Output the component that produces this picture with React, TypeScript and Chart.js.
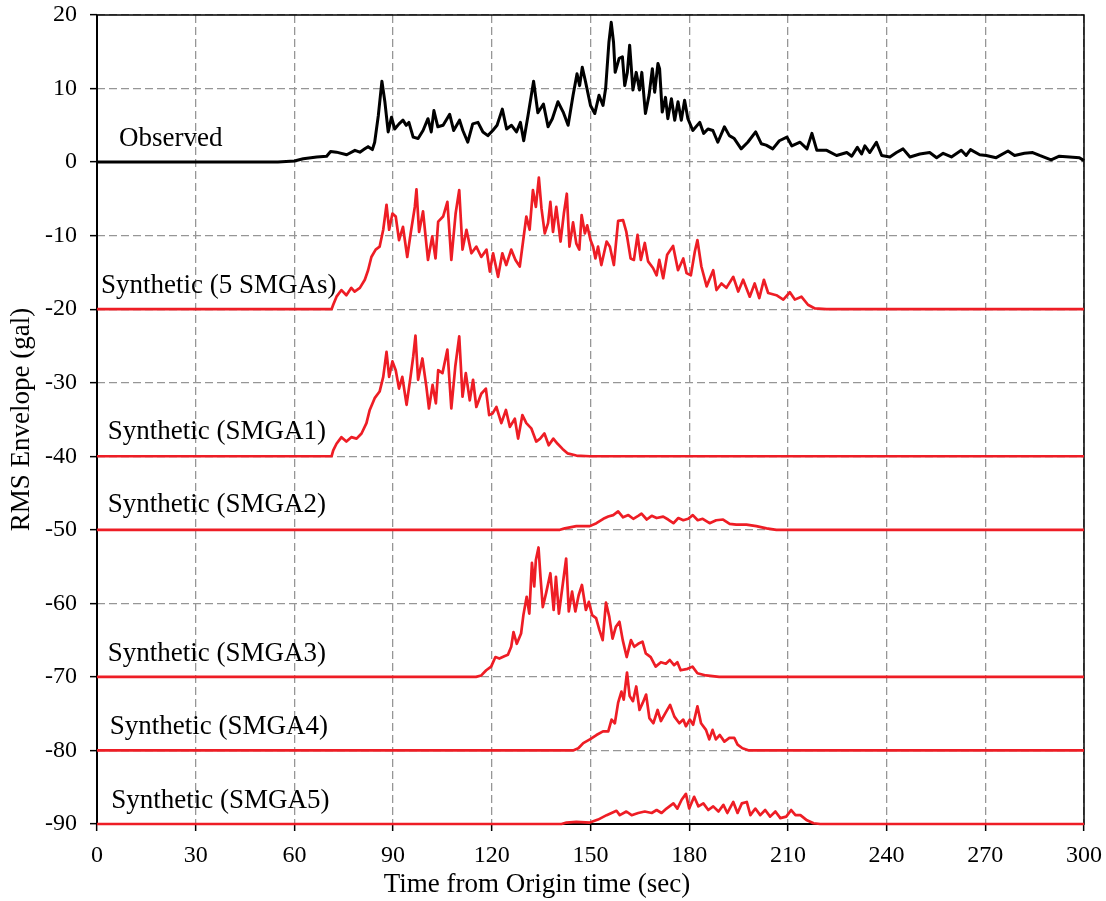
import React, { useEffect, useRef } from "react";
import { Chart, registerables } from "chart.js";

Chart.register(...registerables);

// ---------- data (time sec, RMS envelope gal, offset traces) ----------
const xTickValues = [0, 30, 60, 90, 120, 150, 180, 210, 240, 270, 300];
const yTickValues = [20, 10, 0, -10, -20, -30, -40, -50, -60, -70, -80, -90];

const observed: [number, number][] = [
  [0, 0], [55, 0], [60, 0.15], [62.7, 0.45], [66.8, 0.7], [69.8, 0.8], [71, 1.45], [72.8, 1.35], [75.9, 1.0],
  [78.4, 1.6], [79.9, 1.35], [81.4, 1.8], [82.4, 2.1], [83.7, 1.7], [84.4, 2.7], [85.5, 6.3], [86.6, 11.0],
  [87.5, 8.2], [88.5, 4.1], [89.5, 6.1], [90.5, 4.5], [91.8, 5.2], [93, 5.7], [94, 5.0], [94.8, 5.4], [96.1, 3.4],
  [97.6, 3.2], [99.1, 4.3], [100.6, 5.9], [101.6, 4.1], [102.4, 7.0], [103.6, 4.8], [105.2, 5.0], [107.2, 6.5],
  [108.4, 4.3], [110.2, 5.7], [111.2, 4.3], [112.7, 2.7], [114.2, 5.2], [115.8, 5.4], [117.3, 4.1], [118.8, 3.6],
  [120.3, 4.3], [121.6, 5.0], [123.2, 7.2], [124.5, 4.5], [126, 5.0], [127.5, 4.1], [128.7, 5.4], [129.7, 2.9],
  [131, 6.3], [132.7, 11.0], [134, 6.7], [135.7, 7.9], [137.1, 4.8], [138.4, 5.9], [140.1, 8.2], [141.7, 6.8],
  [143.2, 5.0], [144.7, 9.1], [145.9, 12.0], [146.7, 10.4], [147.5, 12.9], [148.5, 10.9], [150, 7.7], [151.3, 6.6],
  [152.6, 9.1], [153.8, 7.7], [154.6, 10.0], [155.6, 16.3], [156.3, 19.0], [157, 16.3], [157.5, 12.2], [158.7, 14.1],
  [159.7, 14.3], [160.4, 10.4], [161.2, 12.2], [161.9, 15.9], [162.9, 9.8], [163.9, 12.2], [164.9, 9.8], [165.6, 12.2],
  [166.7, 6.6], [167.8, 9.1], [168.8, 12.7], [169.5, 9.5], [170.5, 13.4], [171, 12.7], [171.8, 6.8], [172.8, 8.8],
  [173.5, 5.9], [174.6, 8.6], [175.6, 5.7], [176.6, 8.2], [177.6, 5.7], [178.6, 8.4], [179.6, 5.9], [181.1, 4.3],
  [183.2, 5.4], [184.4, 3.9], [185.7, 4.5], [187.2, 4.3], [188.7, 2.7], [190.7, 4.8], [192.2, 3.6], [193.7, 3.2],
  [195.8, 1.8], [197.8, 2.7], [200.2, 4.1], [201.9, 2.5], [203.4, 2.3], [205.4, 1.8], [207.4, 2.9], [209.7, 3.4],
  [211.2, 2.2], [213.7, 2.7], [215.8, 1.8], [217.3, 3.9], [218.8, 1.6], [221.8, 1.6], [224.8, 0.9], [227.9, 1.3],
  [229.4, 0.8], [231.1, 2.0], [232.4, 1.1], [233.4, 2.2], [234.9, 1.3], [236.9, 2.7], [238.5, 0.9], [241, 0.7],
  [243, 1.3], [245, 1.8], [247.1, 0.7], [250.1, 1.1], [253.1, 1.3], [255.2, 0.6], [257.2, 1.2], [259.7, 0.7],
  [262.7, 1.6], [264.2, 0.9], [265.5, 1.7], [268.3, 1.0], [270.3, 0.9], [273.3, 0.6], [276.9, 1.5], [278.9, 0.9],
  [281.9, 1.2], [284.4, 1.3], [286.5, 0.9], [290, 0.3], [292.5, 0.8], [295.6, 0.7], [298.6, 0.6], [300, 0.2],
];

const synthAll: [number, number][] = [
  [0, -20], [71.3, -20], [71.8, -19.4], [72.8, -18.3], [74.3, -17.4], [75.8, -18.1], [77.3, -17.1], [78.3, -17.6],
  [79.9, -17.1], [81.4, -16.0], [82.4, -14.7], [83.4, -12.9], [84.7, -11.9], [85.9, -11.5], [87, -9.2], [88, -5.8],
  [88.8, -9.2], [89.8, -7.0], [90.8, -7.4], [91.8, -10.6], [93, -8.8], [94.3, -12.9], [95.4, -9.5], [96.6, -6.1],
  [97.1, -3.7], [97.9, -9.5], [99.1, -6.7], [100.6, -13.3], [101.9, -10.1], [102.9, -13.1], [103.7, -8.1],
  [105.2, -7.4], [106.5, -5.4], [107.7, -13.3], [109, -7.0], [110.1, -3.8], [111.1, -11.9], [112.3, -9.2],
  [113.8, -12.4], [115.3, -11.5], [116.8, -12.9], [118.4, -11.9], [119.4, -14.9], [120.4, -12.4], [121.9, -15.6],
  [123.2, -12.4], [124.4, -14.0], [125.9, -11.9], [127.2, -13.3], [128.5, -14.2], [129.5, -10.8], [130.5, -7.4],
  [131.5, -9.2], [132.5, -3.8], [133.4, -6.1], [134.3, -2.1], [135.1, -6.3], [136.1, -9.7], [137.1, -8.3],
  [137.8, -5.4], [138.6, -9.5], [139.6, -6.1], [140.9, -10.8], [141.9, -7.0], [142.8, -4.3], [143.6, -11.5],
  [144.7, -8.2], [145.7, -11.1], [146.6, -11.9], [147.3, -7.2], [148.3, -9.7], [149, -8.6], [150, -10.6],
  [150.8, -11.5], [151.5, -13.1], [152.3, -11.5], [153.3, -14.0], [154.9, -10.8], [155.9, -11.5], [157.1, -14.0],
  [158.4, -8.0], [159.9, -7.9], [160.9, -9.5], [162.2, -13.1], [163.2, -13.3], [164.3, -9.9], [165.3, -13.3],
  [166.5, -11.0], [167.5, -13.5], [169, -14.4], [170.1, -15.4], [170.9, -13.3], [172.1, -15.8], [173.3, -12.6],
  [175.1, -11.4], [176.6, -14.7], [178.2, -13.1], [179.2, -15.1], [180.5, -15.4], [181.7, -12.2], [182.5, -10.6],
  [183.7, -14.2], [185.3, -16.9], [187.3, -14.7], [188.3, -17.4], [189.8, -16.5], [191.3, -17.1], [193.4, -15.6],
  [194.9, -17.6], [196.4, -16.0], [198.4, -18.3], [199.9, -16.5], [201.3, -18.5], [202.7, -16.0], [204, -17.8],
  [206.5, -18.1], [208.6, -18.7], [210.6, -17.7], [212.1, -18.7], [214.1, -18.3], [216.1, -19.4], [218.2, -19.9],
  [221.7, -20], [300, -20],
];

const smga1: [number, number][] = [
  [0, -40], [71.3, -40], [71.8, -39.2], [72.8, -38.3], [74.3, -37.4], [75.8, -38.0], [77.3, -37.4], [78.9, -37.6],
  [80.4, -36.9], [81.9, -35.5], [82.9, -33.7], [84.4, -32.1], [85.9, -31.2], [87, -29.2], [88, -25.8], [88.8, -29.2],
  [89.8, -27.1], [90.8, -28.3], [91.8, -30.8], [92.8, -29.2], [94.1, -33.0], [95.3, -29.2], [96.1, -26.5],
  [96.8, -23.6], [97.6, -29.6], [98.9, -26.7], [100.1, -30.5], [100.9, -33.5], [102, -30.3], [103, -32.8],
  [103.7, -28.3], [105, -28.7], [106.5, -25.5], [107.7, -33.5], [108.9, -27.8], [110.1, -23.7], [111.1, -31.9],
  [112.1, -28.7], [113.3, -32.4], [114.3, -29.6], [115.3, -33.3], [116.8, -31.5], [118.2, -30.8], [119.2, -34.4],
  [120.2, -34.2], [121.4, -33.3], [122.9, -35.5], [124.3, -33.7], [125.5, -36.0], [127, -34.9], [128, -37.6],
  [129.3, -34.4], [130.5, -35.5], [132, -36.2], [133.5, -38.0], [134.7, -37.6], [136, -36.9], [137.3, -38.5],
  [138.7, -37.6], [140, -38.3], [141.5, -39.0], [143, -39.6], [145.7, -39.9], [149.8, -40], [300, -40],
];

const smga2: [number, number][] = [
  [0, -50], [140.7, -50], [142.2, -49.8], [145.7, -49.5], [149.8, -49.5], [151.8, -49.1], [153.9, -48.5],
  [155.4, -48.2], [156.9, -48.0], [158.4, -47.5], [159.9, -48.3], [161.5, -48.0], [163, -48.5], [164.5, -48.1],
  [165.5, -47.8], [167.1, -48.6], [168.6, -48.1], [170.1, -48.4], [172.1, -48.2], [173.6, -48.6], [175.2, -49.1],
  [176.7, -48.4], [178.2, -48.7], [179.7, -48.5], [181.1, -48.0], [182.6, -48.7], [184.1, -48.5], [186.2, -49.1],
  [188.2, -48.7], [190.3, -48.6], [192.3, -49.2], [194.3, -49.3], [197.4, -49.3], [200.4, -49.5], [203.5, -49.8],
  [206.5, -50], [300, -50],
];

const smga3: [number, number][] = [
  [0, -70], [115.2, -70], [116.8, -69.8], [118.3, -69.1], [119.8, -68.6], [121.1, -67.3], [122.3, -67.5],
  [123.8, -67.2], [124.9, -67.0], [125.9, -65.9], [126.6, -63.9], [127.6, -65.5], [128.9, -64.1], [129.6, -61.6],
  [130.6, -59.1], [131.4, -61.4], [132.2, -54.5], [132.9, -57.7], [133.4, -54.1], [134.2, -52.4], [134.8, -56.4],
  [135.5, -60.5], [136.5, -58.6], [137.8, -55.9], [138.8, -60.9], [139.5, -56.4], [140.4, -61.4], [141.6, -57.3],
  [142.6, -53.9], [143.4, -61.1], [144.4, -58.4], [145.4, -61.1], [146.4, -58.9], [147.4, -57.5], [148.6, -60.9],
  [149.5, -59.8], [150.5, -61.6], [151.7, -62.0], [152.7, -63.6], [153.7, -65.0], [154.7, -59.9], [155.7, -61.8],
  [156.7, -64.8], [157.7, -63.2], [158.8, -62.5], [159.8, -65.0], [161, -67.3], [162.3, -65.0], [163.3, -65.9],
  [164.5, -65.5], [165.8, -65.2], [166.8, -66.8], [168.3, -67.3], [169.8, -68.6], [171.4, -68.0], [172.9, -68.2],
  [174.1, -67.7], [175.4, -68.4], [176.4, -68.0], [177.4, -69.1], [179.5, -68.9], [181, -68.6], [182.5, -69.5],
  [185.1, -69.8], [189.1, -70], [300, -70],
];

const smga4: [number, number][] = [
  [0, -80], [144.7, -80], [146.3, -79.7], [147.8, -79.0], [149.8, -78.5], [151.8, -77.9], [153.8, -77.4],
  [155.4, -77.4], [156.4, -75.8], [157.4, -76.3], [158.4, -73.5], [159.4, -72.0], [160.1, -73.1], [161.1, -69.4],
  [161.9, -72.6], [162.9, -73.3], [163.9, -71.3], [164.9, -74.5], [165.9, -73.5], [166.9, -72.4], [167.9, -75.6],
  [169.1, -76.3], [170.4, -74.5], [171.4, -76.0], [172.8, -74.9], [174.2, -73.8], [175.5, -75.4], [177, -76.3],
  [178.2, -75.8], [179, -76.7], [180.2, -75.8], [181.2, -76.5], [182.5, -74.0], [183.6, -76.3], [185.1, -77.2],
  [186.1, -78.5], [187.1, -77.2], [188.1, -78.5], [189.3, -77.9], [190.7, -78.8], [192.2, -78.3], [193.7, -78.3],
  [194.7, -79.2], [196.2, -79.7], [198.2, -80], [300, -80],
];

const smga5: [number, number][] = [
  [0, -90], [141.2, -90], [142.7, -89.8], [145.7, -89.7], [149.8, -89.8], [152.3, -89.4], [154.9, -88.8],
  [156.4, -88.5], [157.9, -88.2], [158.9, -88.8], [160.9, -88.3], [162.5, -88.8], [164.5, -88.5], [166.5, -88.3],
  [168.6, -88.5], [170.1, -88.1], [171.6, -88.5], [173.1, -87.9], [175.2, -87.2], [176.4, -87.9], [177.7, -86.7],
  [179, -85.9], [180, -87.9], [181.5, -86.3], [182.8, -87.6], [184.3, -87.2], [185.8, -88.1], [187.3, -87.6],
  [188.9, -88.3], [190.4, -87.4], [191.6, -88.5], [193.4, -87.0], [194.7, -88.5], [196, -87.2], [197.5, -87.0],
  [198.6, -88.8], [200.1, -87.9], [201.6, -88.8], [203.1, -88.1], [204.6, -89.0], [206.2, -88.3], [207.7, -89.2],
  [209.5, -89.0], [211, -88.1], [212.3, -88.8], [213.8, -88.8], [215.8, -89.5], [217.8, -89.9], [219.8, -90],
  [300, -90],
];

// labels: [text, time at left edge, value at vertical centre]
const seriesLabels: [string, number, number][] = [
  ["Observed", 6.7, 3.1],
  ["Synthetic (5 SMGAs)", 1.2, -16.8],
  ["Synthetic (SMGA1)", 3.3, -36.7],
  ["Synthetic (SMGA2)", 3.3, -46.6],
  ["Synthetic (SMGA3)", 3.3, -66.9],
  ["Synthetic (SMGA4)", 3.9, -76.8],
  ["Synthetic (SMGA5)", 4.3, -86.9],
];

const xTitle = "Time from Origin time (sec)";
const yTitle = "RMS Envelope (gal)";

const SERIF = "'Liberation Serif', 'Times New Roman', serif";
const RED = "#ee1d25";

const toPts = (arr: [number, number][]) => arr.map(([x, y]) => ({ x, y }));

const framePlugin = {
  id: "framePlugin",
  beforeDatasetsDraw(chart: any) {
    const { ctx, chartArea } = chart;
    ctx.save();
    ctx.strokeStyle = "#000";
    ctx.lineWidth = 1.5;
    ctx.strokeRect(chartArea.left, chartArea.top, chartArea.right - chartArea.left, chartArea.bottom - chartArea.top);
    ctx.lineWidth = 2;
    ctx.beginPath();
    ctx.moveTo(chartArea.left, chartArea.top);
    ctx.lineTo(chartArea.left, chartArea.bottom);
    ctx.lineTo(chartArea.right, chartArea.bottom);
    ctx.stroke();
    ctx.restore();
  },
};

const textPlugin = {
  id: "textPlugin",
  afterDraw(chart: any) {
    const { ctx, chartArea, scales } = chart;
    const xs = scales.x;
    const ys = scales.y;
    ctx.save();
    ctx.fillStyle = "#000";
    ctx.font = `27px ${SERIF}`;
    ctx.textAlign = "left";
    ctx.textBaseline = "middle";
    for (const [t, x, y] of seriesLabels) {
      ctx.fillText(t, xs.getPixelForValue(x), ys.getPixelForValue(y));
    }
    ctx.textAlign = "center";
    ctx.fillText(xTitle, 537, 885);
    ctx.translate(22, (chartArea.top + chartArea.bottom) / 2);
    ctx.rotate(-Math.PI / 2);
    ctx.fillText(yTitle, 0, 0);
    ctx.restore();
  },
};

export default function App() {
  const ref = useRef<HTMLCanvasElement>(null);
  useEffect(() => {
    const mk = (data: [number, number][], color: string, width: number) => ({
      data: toPts(data),
      borderColor: color,
      borderWidth: width,
      borderJoinStyle: "round",
      pointRadius: 0,
      tension: 0,
      fill: false,
      clip: false as any,
    });
    const gridCommon = {
      color: "#969696",
      lineWidth: 1.3,
      tickColor: "#000",
      tickLength: 7,
      tickWidth: 1.5,
      tickBorderDash: [],
    };
    const chart = new Chart(ref.current!, {
      type: "line",
      data: {
        datasets: [
          mk(observed, "#000", 3),
          mk(synthAll, RED, 2.7),
          mk(smga1, RED, 2.7),
          mk(smga2, RED, 2.7),
          mk(smga3, RED, 2.7),
          mk(smga4, RED, 2.7),
          mk(smga5, RED, 2.7),
        ] as any,
      },
      options: {
        responsive: false,
        animation: false,
        devicePixelRatio: 1,
        layout: { padding: { top: 15, right: 22, left: 0, bottom: 0 } },
        plugins: { legend: { display: false }, tooltip: { enabled: false } },
        scales: {
          x: {
            type: "linear",
            min: 0,
            max: 300,
            afterBuildTicks: (s: any) => {
              s.ticks = xTickValues.map((v) => ({ value: v }));
            },
            afterFit: (s: any) => {
              s.height = 77;
              s.paddingLeft = 0;
              s.paddingRight = 0;
              s.paddingTop = 0;
              s.paddingBottom = 0;
            },
            ticks: {
              color: "#000",
              font: { family: SERIF, size: 24 },
              padding: 10,
              maxRotation: 0,
              callback: (v: any) => String(v),
            },
            grid: gridCommon as any,
            border: { display: false, dash: [8, 4] },
          },
          y: {
            type: "linear",
            min: -90,
            max: 20,
            afterBuildTicks: (s: any) => {
              s.ticks = yTickValues.map((v) => ({ value: v }));
            },
            afterFit: (s: any) => {
              s.width = 97;
              s.paddingLeft = 0;
              s.paddingRight = 0;
              s.paddingTop = 0;
              s.paddingBottom = 0;
            },
            ticks: {
              color: "#000",
              font: { family: SERIF, size: 24 },
              padding: 13,
              callback: (v: any) => String(v),
            },
            grid: gridCommon as any,
            border: { display: false, dash: [8, 4] },
          },
        },
      } as any,
      plugins: [framePlugin, textPlugin],
    });
    return () => chart.destroy();
  }, []);
  return (
    <div style={{ position: "absolute", left: 0, top: 0, width: 1106, height: 901, background: "#fff" }}>
      <canvas ref={ref} width={1106} height={901} style={{ width: 1106, height: 901, display: "block" }} />
    </div>
  );
}
